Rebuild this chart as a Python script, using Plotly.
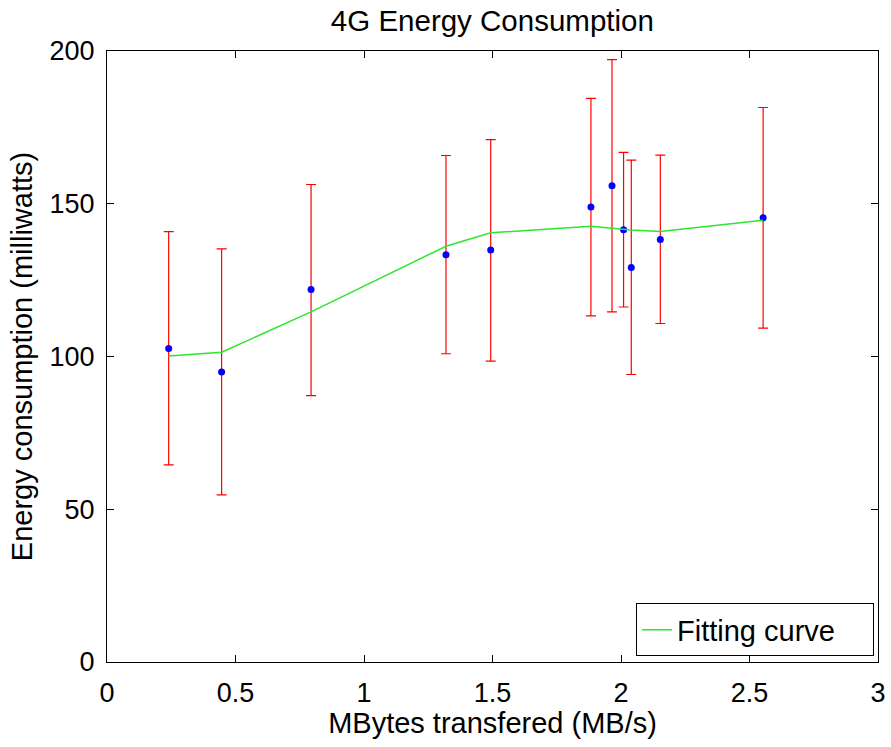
import plotly.graph_objects as go

# Measured throughput (MB/s) and mean power draw (mW) with spread
mbytes = [0.24, 0.446, 0.794, 1.319, 1.493, 1.883, 1.965, 2.010, 2.040, 2.153, 2.553]
energy = [102.6, 94.9, 121.9, 133.3, 134.9, 148.9, 155.9, 141.5, 129.1, 138.3, 145.4]
err_hi = [140.9, 135.2, 156.3, 165.8, 171.0, 184.5, 197.2, 166.8, 164.3, 165.9, 181.5]
err_lo = [64.5, 54.7, 87.2, 100.9, 98.5, 113.3, 114.6, 116.2, 94.1, 110.8, 109.3]
fit = [100.2, 101.4, 114.6, 136.1, 140.5, 142.6, 142.0, 141.6, 141.4, 140.9, 144.6]

x_ticks = [0, 0.5, 1, 1.5, 2, 2.5, 3]
x_labels = ["0", "0.5", "1", "1.5", "2", "2.5", "3"]
y_ticks = [0, 50, 100, 150, 200]
y_labels = ["0", "50", "100", "150", "200"]

FONT = "Liberation Sans, Arial, Helvetica, sans-serif"

err_plus = [h - e for h, e in zip(err_hi, energy)]
err_minus = [e - l for e, l in zip(energy, err_lo)]

fig = go.Figure()

fig.add_trace(go.Scatter(
    x=mbytes, y=energy,
    mode="markers",
    marker=dict(color="#0000ff", size=7),
    error_y=dict(type="data", symmetric=False, array=err_plus, arrayminus=err_minus,
                 color="#ff0000", thickness=1.2, width=5),
    showlegend=False,
    hoverinfo="skip",
))

fig.add_trace(go.Scatter(
    x=mbytes, y=fit,
    mode="lines",
    line=dict(color="#2ee62e", width=1.5),
    name="Fitting curve",
))

axis_common = dict(
    showline=True, linecolor="#000000", linewidth=1.2,
    mirror="ticks", ticks="inside", ticklen=7, tickcolor="#000000", tickwidth=1,
    showgrid=False, zeroline=False, automargin=False,
    tickfont=dict(family=FONT, size=27, color="#000000"),
)

fig.update_layout(
    width=891, height=747,
    margin=dict(l=107, r=13, t=51, b=85),
    paper_bgcolor="#ffffff", plot_bgcolor="#ffffff",
    font=dict(family=FONT, color="#000000"),
    title=dict(text="4G Energy Consumption", x=0.5526, xanchor="center",
               y=0.972, yanchor="middle",
               font=dict(family=FONT, size=29.5, color="#000000")),
    xaxis=dict(range=[0, 3], tickvals=x_ticks, ticktext=x_labels,
               title=dict(text="MBytes transfered (MB/s)", standoff=6,
                          font=dict(family=FONT, size=29, color="#000000")),
               ticklabelstandoff=6, **axis_common),
    yaxis=dict(range=[0, 200], tickvals=y_ticks, ticktext=y_labels,
               title=dict(text="Energy consumption (milliwatts)", standoff=8,
                          font=dict(family=FONT, size=29, color="#000000")),
               ticklabelstandoff=6, **axis_common),
    legend=dict(x=0.9948, y=0.0093, xanchor="right", yanchor="bottom",
                orientation="h", entrywidth=191, entrywidthmode="pixels",
                bgcolor="#ffffff", bordercolor="#000000", borderwidth=1,
                font=dict(family=FONT, size=29, color="#000000"),
                itemwidth=30, tracegroupgap=0),
)

fig.write_html("out.html")
